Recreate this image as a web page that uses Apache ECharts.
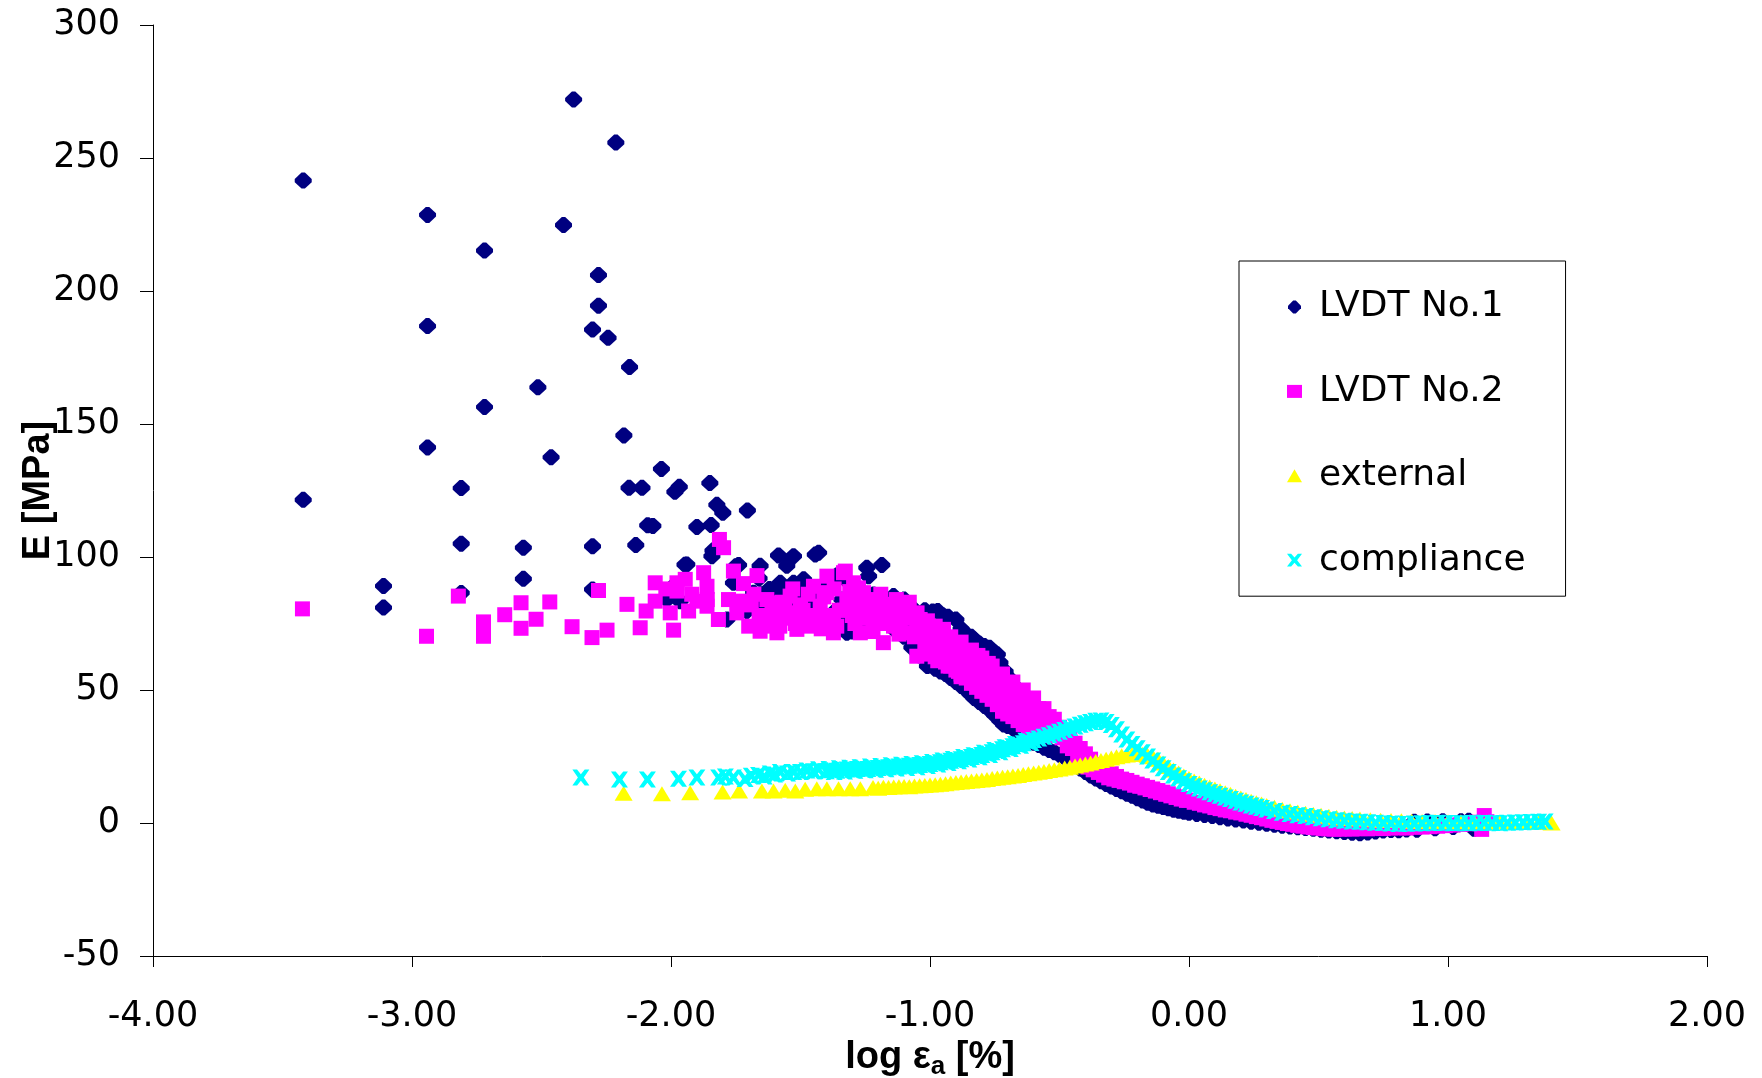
<!DOCTYPE html>
<html><head><meta charset="utf-8">
<script src="https://cdn.jsdelivr.net/npm/echarts@6/dist/echarts.min.js"></script>
<style>html,body{margin:0;padding:0;background:#fff}#c{width:1762px;height:1078px}</style>
</head><body><div id="c"></div>
<script>
// ---- axis definitions ----
const xRange = [-4, 2, 1];
const yRange = [-50, 300, 50];
const seriesNames = ['LVDT No.1', 'LVDT No.2', 'external', 'compliance'];
const xTitle = 'log ε';
const xTitleSub = 'a';
const xTitleUnit = ' [%]';
const yTitle = 'E [MPa]';

// ---- LVDT No.1 (navy diamonds) ----
const lvdt1 = [
[-3.42,241.5],[-3.42,121.5],[-3.11,89.1],[-3.11,81.0],[-2.94,228.6],[-2.94,186.8],[-2.94,141.2],
[-2.81,125.9],[-2.81,105.0],[-2.81,86.5],[-2.72,215.2],[-2.72,156.4],[-2.57,103.5],[-2.57,91.8],
[-2.514,163.8],[-2.463,137.5],[-2.415,224.8],[-2.376,272.0],[-2.303,185.5],[-2.303,104.0],[-2.303,87.8],
[-2.28,206.0],[-2.28,194.5],[-2.243,182.4],[-2.213,255.8],[-2.16,171.4],[-2.182,145.7],[-2.162,126.0],
[-2.112,126.0],[-2.136,104.5],[-2.09,111.9],[-2.07,111.7],[-2.037,133.1],[-1.985,124.5],[-1.968,126.4],
[-1.946,97.1],[-1.90,111.3],[-1.85,127.8],[-1.845,112.0],[-1.823,119.6],[-1.80,116.6],[-1.838,102.4],
[-1.842,100.3],[-1.705,117.5],[-1.75,96.5],
[-1.997,88.4],[-1.939,97.2],[-2.016,84.0],[-1.965,83.4],[-1.759,90.3],[-1.739,97.0],[-1.656,96.7],
[-1.681,86.6],[-1.655,86.0],[-1.707,79.7],[-1.655,80.3],[-1.784,76.5],[-1.585,100.6],[-1.527,100.3],
[-1.443,100.9],[-1.43,101.6],[-1.553,96.7],[-1.578,90.3],[-1.527,90.3],[-1.488,91.6],[-1.514,88.4],
[-1.475,87.8],[-1.449,86.6],[-1.244,96.0],[-1.186,97.0],[-1.237,92.8],[-1.218,85.9],[-1.141,85.3],
[-1.321,71.5],[-1.591,85.3],[-1.527,83.4],[-1.449,81.5],[-1.373,79.0],[-1.321,76.5],[-1.064,79.0],
[-1.38,88],[-1.34,84],[-1.30,86],[-1.27,82],[-1.24,80],[-1.16,82],[-1.12,80],[-1.08,77],
[-1.66,92],[-1.62,88],[-1.60,83],[-1.56,86],[-1.50,84],[-1.46,80],[-1.42,84],[-1.40,90],[-1.36,93],[-1.32,91],
// upper trail
[-1.10,84],[-1.07,81],[-1.04,78],[-1.02,80],[-0.99,79.5],[-0.97,79.7],[-0.95,78],[-0.93,77.5],[-0.90,76.5],
[-0.88,73],[-0.86,71],[-0.84,70],[-0.83,69],[-0.81,67.5],[-0.79,66.5],[-0.77,65.9],[-0.75,64],[-0.74,63.4],
[-0.73,60.3],[-0.71,57],[-0.69,54],[-0.67,51],[-0.65,48],[-0.63,45],[-0.61,42],[-0.59,39],[-0.57,35],
// lower trail
[-1.30,72],[-1.26,74],[-1.22,75],[-1.18,76],[-1.14,73],[-1.10,70],[-1.07,66],[-1.04,63],[-1.01,59],
[-0.98,58],[-0.96,57],[-0.94,56],[-0.92,54.5],[-0.90,53],[-0.88,51.5],[-0.86,50],[-0.845,48.5],[-0.83,47],
[-0.81,45.5],[-0.79,44],[-0.77,42.5],[-0.75,40.5],[-0.73,38.5],[-0.716,37],[-0.70,36.5],[-0.678,35.5],
[-0.66,34],[-0.64,32.5],[-0.62,31.2],[-0.60,30.2],[-0.58,29.3],[-0.56,28.3],[-0.54,27.4],[-0.52,26.6],
[-0.50,25.7],[-0.48,24.6],[-0.46,23.3],[-0.44,21.9],[-0.42,20.5],[-0.40,19.2],[-0.38,17.9],[-0.36,16.7],
[-0.34,15.7],[-0.32,14.7],[-0.30,13.7],[-0.28,12.8],[-0.26,11.9],[-0.24,11.0],[-0.22,10.2],[-0.20,9.3],
[-0.18,8.5],[-0.16,7.6],[-0.14,7.0],[-0.12,6.5],[-0.10,6.0],[-0.08,5.5],[-0.06,5.0],[-0.04,4.6],
[-0.02,4.2],[0.00,3.9],[0.03,3.4],[0.06,3.0],[0.09,2.6],[0.12,2.2],[0.15,1.7],[0.18,1.3],[0.21,0.9],
[0.24,0.5],[0.27,0.1],[0.30,-0.3],[0.33,-0.7],[0.36,-1.0],[0.39,-1.3],[0.42,-1.6],[0.45,-1.9],[0.48,-2.2],
[0.51,-2.5],[0.54,-2.8],[0.57,-3.1],[0.60,-3.4],[0.63,-3.7],[0.66,-3.9],[0.69,-3.6],[0.72,-3.2],[0.75,-2.8],
[0.78,-2.6],[0.81,-2.7],[0.84,-2.4],[0.88,-2.5],[0.95,-2.0],[1.02,-1.5],[1.10,-2.2],
[0.87,0.5],[0.92,0.6],[0.98,0.7],[1.05,0.7],[1.08,0.8],[1.13,0.3]
];

// ---- LVDT No.2 (magenta squares) ----
const lvdt2 = [
[-3.423,80.5],[-2.944,70.2],[-2.821,85.3],[-2.724,75.6],[-2.724,70.2],[-2.642,78.3],[-2.579,82.8],
[-2.579,73.2],[-2.521,76.6],[-2.468,83.1],[-2.382,73.8],[-2.305,69.7],[-2.280,87.4],[-2.247,72.5],
[-2.170,82.2],[-2.119,73.4],[-2.096,79.7],[-2.061,90.3],[-2.061,83.4],[-2.003,79.0],[-1.990,72.5],
[-1.977,90.3],[-1.945,91.6],[-1.977,87.2],[-1.932,79.7],[-1.900,83.4],[-1.874,94.1],[-1.861,89.0],
[-1.861,81.5],[-1.817,76.5],[-1.813,106.6],[-1.797,103.5],[-1.778,84.0],[-1.759,94.7],[-1.746,79.0],
[-1.733,83.4],[-1.668,93.0],[-1.656,72.1],[-1.604,82.8],[-1.591,76.5],[-1.591,71.5],[-1.540,85.3],
[-1.527,79.0],[-1.514,72.8],[-1.475,75.3],[-1.450,89.0],[-1.424,81.5],[-1.398,92.8],[-1.398,86.6],
[-1.373,76.5],[-1.334,94.1],[-1.321,84.0],[-1.295,90.3],[-1.269,81.5],[-1.257,86.6],[-1.269,71.5],
[-1.205,76.5],[-1.180,81.5],[-1.141,74.0],[-1.102,81.5],[-1.089,71.5],[-1.038,76.5],[-1.012,69.0],
[-1.327,94.7],[-1.276,88.4],[-1.180,82.2],[-1.115,82.2],[-1.475,74.0],[-1.373,71.5],[-1.180,67.8],
[-1.051,62.7],[-0.987,64.0],[-1.012,72.8],[-0.948,72.8],[-1.115,76.5],[-1.051,75.3],
[-1.64,78],[-1.56,80],[-1.50,82],[-1.46,78],[-1.35,80],[-1.30,78],[-1.24,79],[-1.16,78],[-1.07,78],
[-1.62,74],[-1.70,74],[-1.68,86],[-1.72,90],[-1.86,84],[-1.92,86],[-2.02,88],
[-1.69,82],[-1.66,77],[-1.63,84],[-1.61,79],[-1.58,74],[-1.57,83],[-1.55,77],[-1.53,88],[-1.52,75],
[-1.49,80],[-1.47,86],[-1.44,77],[-1.42,73],[-1.41,85],[-1.39,78],[-1.37,88],[-1.36,74],[-1.33,80],
[-1.31,87],[-1.29,75],[-1.28,83],[-1.26,77],[-1.23,84],[-1.22,72],[-1.21,80],[-1.19,86],[-1.17,75],
[-1.15,79],[-1.13,84],[-1.12,71],[-1.10,77],[-1.08,83],[-1.06,70],[-1.05,79],[-1.03,73],[-1.02,66],[-1.01,76],
// band
[-1.00,70],[-0.99,64],[-0.98,74],[-0.97,61],[-0.96,72],[-0.95,62],[-0.94,69],[-0.93,59],[-0.92,70],
[-0.91,60],[-0.90,67],[-0.89,57],[-0.88,68],[-0.88,55],[-0.87,58],[-0.86,64],[-0.85,55.5],[-0.84,65],
[-0.83,55],[-0.82,61],[-0.81,58],[-0.80,62],[-0.79,53],[-0.78,58],[-0.77,55],[-0.76,59],[-0.75,50],
[-0.74,55],[-0.73,52],[-0.72,56],[-0.71,47],[-0.70,52],[-0.69,49],[-0.68,53],[-0.67,45],[-0.66,49],
[-0.65,46],[-0.64,50],[-0.63,42],[-0.62,46],[-0.61,43],[-0.60,47],[-0.59,39],[-0.58,43],[-0.57,40],
[-0.56,43],[-0.55,36],[-0.54,40],[-0.53,37],[-0.52,39],[-0.51,33],[-0.50,36],[-0.49,32],[-0.48,34],
[-0.995,67],[-0.975,70],[-0.955,66],[-0.935,64],[-0.915,65],[-0.895,62],[-0.875,61],[-0.855,60],
[-0.835,58],[-0.815,63],[-0.795,57],[-0.775,60],[-0.755,53],[-0.735,49],[-0.715,51],[-0.695,45],
[-0.675,48],[-0.655,43],[-0.635,45],[-0.615,40],[-0.595,42],[-0.575,37],[-0.555,38],
[-1.00,63.5],[-0.98,62.5],[-0.96,61.5],[-0.94,60.5],[-0.92,59],[-0.90,57.5],[-0.88,56],[-0.86,54.5],
[-0.84,52.5],[-0.82,51],[-0.80,49.5],[-0.78,48],[-0.76,46.5],[-0.74,44.5],[-0.72,42],[-0.70,41],
[-0.68,40],[-0.66,38.5],[-0.64,37],[-0.62,35.7],[-0.60,34.7],[-0.58,33.8],[-0.56,32.8],
[-0.47,29],[-0.46,32],[-0.45,28],[-0.44,30],[-0.43,25],[-0.42,28],[-0.41,23],[-0.40,26],[-0.39,21],
[-0.38,24],[-0.37,20],[-0.36,22],[-0.35,19],[-0.34,21],[-0.33,18],[-0.32,19.5],[-0.31,17],[-0.30,18.5],
[-0.29,16.5],[-0.28,17.5],[-0.27,16],[-0.26,16.5],[-0.25,15.5],[-0.24,16],[-0.23,15],[-0.22,15.3],
[-0.21,14.2],[-0.20,14.6],[-0.19,13.8],[-0.18,14],[-0.17,13.2],[-0.16,13.4],[-0.15,12.6],[-0.14,12.8],
[-0.13,12],[-0.12,12.2],[-0.11,11.4],[-0.10,11.6],[-0.09,10.8],[-0.08,11],[-0.07,10.2],[-0.06,10.4],
[-0.05,9.6],[-0.04,9.8],[-0.03,9],[-0.02,9.2],[-0.01,8.5],[0.00,8.6],[0.02,7.8],[0.04,7.4],[0.06,6.8],
[0.08,6.4],[0.10,5.8],[0.12,5.4],[0.14,4.9],[0.16,4.6],[0.18,4.1],[0.20,3.8],[0.22,3.3],[0.24,2.9],
[0.26,2.4],[0.28,2.0],[0.30,1.5],[0.32,1.0],[0.34,0.6],[0.36,0.2],[0.38,-0.2],[0.40,-0.5],[0.42,-0.9],
[0.44,-1.2],[0.46,-1.5],[0.48,-1.7],[0.50,-1.9],[0.52,-2.1],[0.54,-2.2],[0.56,-2.3],[0.58,-2.3],
[0.60,-2.2],[0.63,-2.3],[0.66,-2.1],[0.69,-2.2],[0.72,-2.0],[0.75,-2.1],[0.78,-1.9],[0.81,-1.8],
[0.84,-1.9],[0.87,-1.6],[0.90,-1.5],[0.93,-1.4],[0.96,-1.2],[0.99,-1.0],[1.02,-0.8],[1.05,-0.5],
[1.08,-0.3],[1.11,0.3],[1.13,-2.4],[1.14,2.8],[1.15,0.5]
];

// ---- external (yellow triangles) ----
const external = [
[-2.183,11.2],[-2.035,11.0],[-1.926,11.4],[-1.801,11.7],[-1.737,12.0],[-1.649,12.0],[-1.604,12.0],
[-1.559,12.3],[-1.520,12.0],[-1.482,12.7],[-1.437,12.9],[-1.398,12.9],[-1.353,12.9],[-1.308,12.9],
[-1.269,12.9],
[-1.22,13.3],[-1.20,13.1],[-1.18,13.4],[-1.16,13.3],[-1.14,13.5],[-1.12,13.6],[-1.10,13.7],[-1.08,13.6],
[-1.06,13.9],[-1.04,14.0],[-1.02,14.1],[-1.00,14.3],[-0.98,14.4],[-0.96,14.6],[-0.94,14.8],[-0.92,15.0],
[-0.90,15.2],[-0.88,15.4],[-0.86,15.6],[-0.84,15.8],[-0.82,16.0],[-0.80,16.2],[-0.78,16.4],[-0.76,16.7],
[-0.74,16.9],[-0.72,17.2],[-0.70,17.4],[-0.68,17.7],[-0.66,17.9],[-0.64,18.2],[-0.62,18.5],[-0.60,18.8],
[-0.58,19.1],[-0.56,19.4],[-0.54,19.7],[-0.52,20.0],[-0.50,20.3],[-0.48,20.7],[-0.46,21.0],[-0.44,21.4],
[-0.42,21.8],[-0.40,22.2],[-0.38,22.6],[-0.36,23.1],[-0.34,23.5],[-0.32,24.0],[-0.30,24.4],[-0.28,24.9],
[-0.26,25.3],[-0.24,25.6],[-0.22,25.8],[-0.20,25.9],[-0.18,25.8],[-0.16,25.5],[-0.14,24.9],[-0.12,24.0],
[-0.10,22.6],[-0.08,21.2],[-0.06,19.9],[-0.04,18.8],[-0.02,17.7],[0.00,16.7],[0.02,15.8],[0.04,15.0],
[0.06,14.2],[0.08,13.5],[0.10,12.8],[0.12,12.1],[0.14,11.4],[0.16,10.8],[0.18,10.1],[0.20,9.4],
[0.22,8.8],[0.24,8.2],[0.26,7.6],[0.28,7.1],[0.30,6.6],[0.33,5.9],[0.36,5.2],[0.39,4.6],[0.42,4.1],
[0.45,3.7],[0.48,3.3],[0.51,2.9],[0.54,2.5],[0.57,2.2],[0.60,1.9],[0.63,1.7],[0.66,1.5],[0.70,1.2],
[0.74,1.0],[0.78,0.9],[0.82,0.8],[0.86,0.7],[0.90,0.6],[0.95,0.6],[1.00,0.5],[1.05,0.5],[1.10,0.4],
[1.15,0.4],[1.20,0.3],[1.25,0.3],[1.30,0.2],[1.35,0.2],[1.40,0.0]
];

// ---- compliance (cyan crosses) ----
const compliance = [
[-2.348,17.1],[-2.199,16.4],[-2.091,16.4],[-1.971,16.6],[-1.900,17.1],[-1.816,17.1],[-1.79,17.5],
[-1.759,17.1],[-1.714,16.5],[-1.69,17.8],[-1.662,18.0],[-1.64,17.5],[-1.617,18.6],[-1.60,18.2],
[-1.578,19.2],[-1.55,18.6],[-1.526,19.2],[-1.50,19.2],[-1.475,19.7],[-1.45,19.5],[-1.430,20.2],
[-1.40,19.5],[-1.39,20.3],[-1.38,19.8],[-1.37,19.2],[-1.36,19.6],[-1.35,20.6],[-1.34,20.0],[-1.33,19.4],
[-1.32,20.1],[-1.31,20.8],[-1.30,20.0],[-1.29,19.6],[-1.28,20.3],[-1.27,21.0],[-1.26,20.4],[-1.25,19.8],
[-1.24,20.3],[-1.23,21.2],[-1.22,20.6],[-1.21,20.0],[-1.20,20.7],[-1.19,21.4],[-1.18,20.8],[-1.17,20.2],
[-1.16,21.0],[-1.15,21.7],[-1.14,21.1],[-1.13,20.5],[-1.12,21.2],[-1.11,21.9],[-1.10,21.3],[-1.09,20.7],
[-1.08,21.5],[-1.07,22.2],[-1.06,21.6],[-1.05,21.0],[-1.04,21.8],[-1.03,22.5],[-1.02,22.0],[-1.01,21.4],
[-1.00,22.2],[-0.99,22.9],[-0.98,22.5],[-0.97,22.0],[-0.96,22.8],[-0.95,23.5],[-0.94,23.1],[-0.93,22.6],
[-0.92,23.4],[-0.91,24.1],[-0.90,23.7],[-0.89,23.2],[-0.88,24.0],[-0.87,24.8],[-0.86,24.4],[-0.85,23.9],
[-0.84,24.8],[-0.83,25.5],[-0.82,25.2],[-0.81,24.7],[-0.80,25.6],[-0.79,26.4],[-0.78,26.1],[-0.77,25.6],
[-0.76,26.6],[-0.75,27.4],[-0.74,27.1],[-0.73,26.6],[-0.72,27.7],[-0.71,28.5],[-0.70,28.3],[-0.69,27.8],
[-0.68,28.9],[-0.67,29.7],[-0.66,29.5],[-0.65,29.0],[-0.64,30.0],[-0.63,30.9],[-0.62,30.6],[-0.61,30.1],
[-0.60,31.2],[-0.58,31.8],[-0.56,32.4],[-0.54,33.0],[-0.52,33.6],[-0.50,34.3],[-0.48,35.0],[-0.46,35.7],
[-0.44,36.3],[-0.42,36.9],[-0.40,37.5],[-0.38,38.0],[-0.36,38.4],[-0.34,38.5],[-0.32,38.0],[-0.30,36.8],
[-0.28,35.2],[-0.26,33.3],[-0.24,31.4],[-0.22,29.7],[-0.20,28.1],[-0.18,26.6],[-0.16,25.0],[-0.14,23.5],
[-0.12,22.0],[-0.10,20.6],[-0.08,19.2],[-0.06,17.9],[-0.04,16.8],[-0.02,15.7],[0.00,14.7],[0.02,13.8],
[0.04,13.0],[0.06,12.3],[0.08,11.6],[0.10,10.9],[0.12,10.2],[0.14,9.6],[0.16,9.0],[0.18,8.4],[0.20,7.7],
[0.22,7.2],[0.24,6.6],[0.26,6.1],[0.28,5.6],[0.30,5.1],[0.33,4.5],[0.36,3.9],[0.39,3.4],[0.42,2.9],
[0.45,2.6],[0.48,2.2],[0.51,1.8],[0.54,1.4],[0.57,1.0],[0.60,0.8],[0.63,0.6],[0.66,0.5],[0.69,0.3],
[0.72,0.1],[0.75,0.0],[0.78,-0.2],[0.81,-0.4],[0.84,-0.3],[0.87,-0.2],[0.90,-0.1],[0.93,0.0],[0.96,0.1],
[0.99,0.0],[1.02,-0.1],[1.05,0.0],[1.08,-0.1],[1.11,0.0],[1.14,0.1],[1.17,0.0],[1.20,-0.1],[1.23,0.1],
[1.26,0.2],[1.29,0.3],[1.32,0.4],[1.35,0.5],[1.375,0.6]
];

// ---- marker shapes ----
const diamondPath = 'path://M-2,-10 L2,-10 L10,-2 L10,2 L2,10 L-2,10 L-10,2 L-10,-2 Z';
const crossPath = 'path://M0,0 L5.5,0 L10,5 L14.5,0 L20,0 L13.5,8.5 L20,17 L14.5,17 L10,12 L5.5,17 L0,17 L6.5,8.5 Z';
const colors = ['#000080', '#FF00FF', '#FFFF00', '#00FFFF'];
const symbols = [diamondPath, 'rect', 'triangle', crossPath];
const sizes = [[17,16], [15,15], [18,15], [17,16]];
const datasets = [lvdt1, lvdt2, external, compliance];

const chart = echarts.init(document.getElementById('c'), null, {renderer: 'canvas'});
const tickFont = 'DejaVu Sans';
const titleFont = 'Liberation Sans';

chart.setOption({
  animation: false,
  backgroundColor: '#fff',
  grid: {left: 153, right: 55, top: 25, bottom: 122, containLabel: false, outerBoundsMode: 'none'},
  xAxis: {
    type: 'value', min: xRange[0], max: xRange[1], interval: xRange[2],
    axisLine: {onZero: false, lineStyle: {color: '#000', width: 1}},
    axisTick: {show: true, length: 11, lineStyle: {color: '#000'}},
    splitLine: {show: false},
    axisLabel: {formatter: v => v.toFixed(2), fontFamily: tickFont, fontSize: 35, color: '#000', margin: 43},
    name: '{t|' + xTitle + '}{s|' + xTitleSub + '}{t|' + xTitleUnit + '}',
    nameLocation: 'middle', nameGap: 77,
    nameTextStyle: {
      rich: {
        t: {fontFamily: titleFont, fontWeight: 'bold', fontSize: 38, color: '#000', lineHeight: 44},
        s: {fontFamily: titleFont, fontWeight: 'bold', fontSize: 26, color: '#000', lineHeight: 26, verticalAlign: 'bottom'}
      }
    }
  },
  yAxis: {
    type: 'value', min: yRange[0], max: yRange[1], interval: yRange[2],
    axisLine: {show: true, onZero: false, lineStyle: {color: '#000', width: 1}},
    axisTick: {show: true, length: 13, lineStyle: {color: '#000'}},
    splitLine: {show: false},
    axisLabel: {fontFamily: tickFont, fontSize: 35, color: '#000', margin: 33},
    name: yTitle, nameLocation: 'middle', nameRotate: 90, nameGap: 95, nameMoveOverlap: false,
    nameTextStyle: {fontFamily: titleFont, fontWeight: 'bold', fontSize: 38, color: '#000'}
  },
  legend: {
    orient: 'vertical', left: 1239, top: 261,
    padding: [26, 40, 16, 48],
    borderColor: '#000', borderWidth: 1,
    itemWidth: 15, itemHeight: 13, itemGap: 44.4,
    textStyle: {fontFamily: tickFont, fontSize: 36, color: '#000', lineHeight: 40, padding: [0, 0, 0, 12]},
    data: seriesNames.map((n, i) => ({name: n, icon: symbols[i]}))
  },
  series: seriesNames.map((n, i) => ({
    name: n, type: 'scatter', data: datasets[i],
    symbol: symbols[i], symbolSize: sizes[i],
    itemStyle: {color: colors[i], opacity: 1},
    silent: true, z: 2 + i
  }))
});
</script></body></html>
